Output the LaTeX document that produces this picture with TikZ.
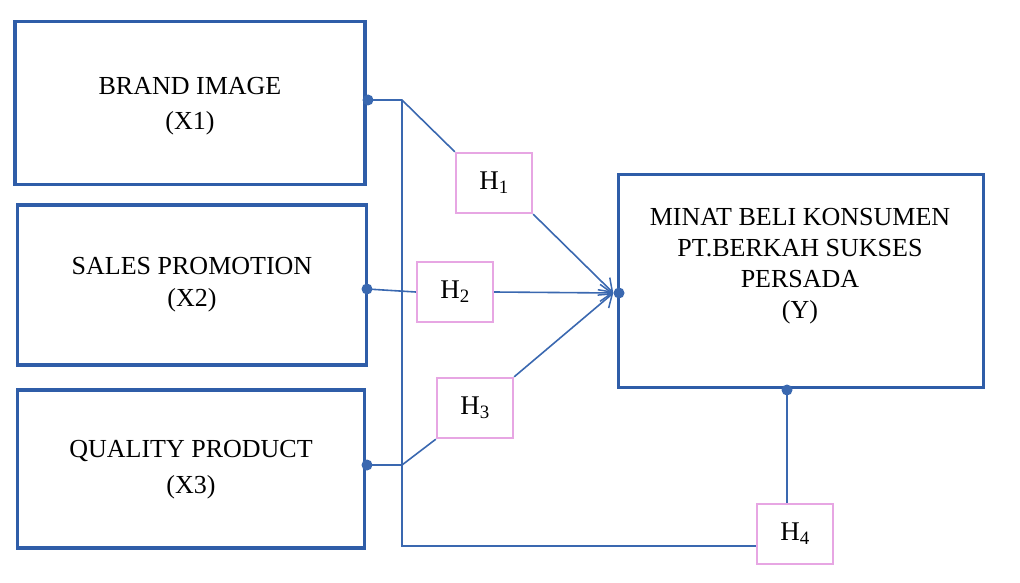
\documentclass[tikz,border=0pt]{standalone}
\usepackage{fontspec}
\setmainfont{Liberation Serif}
\usetikzlibrary{arrows.meta}
\definecolor{boxblue}{HTML}{2F5DA8}
\definecolor{lineblue}{HTML}{3A68B0}
\definecolor{hpink}{HTML}{E7A6E3}
\tikzset{
  varbox/.style={draw=boxblue, line width=3.2pt, fill=white, inner sep=0pt},
  vartext/.style={font=\fontsize{26}{35}\selectfont, align=center, inner sep=0pt},
  hbox/.style={draw=hpink, line width=2.4pt, fill=white, inner sep=0pt, minimum width=76pt, minimum height=60pt, font=\fontsize{27}{30}\selectfont},
  conn/.style={draw=lineblue, line width=1.6pt},
  thin/.style={draw=lineblue, line width=1.1pt},
  arr/.style={conn, -{Straight Barb[length=12pt, width=17pt, line width=1.5pt]}},
  dot/.style={circle, fill=lineblue, inner sep=0pt, minimum size=11pt}
}
\begin{document}
\begin{tikzpicture}[x=1pt, y=-1pt]
\useasboundingbox (0,0) rectangle (1020,583);
% variable boxes
\node[varbox, minimum width=350pt, minimum height=163pt] (x1) at (190,103) {};
\node[vartext] (t1) at (190,106) {BRAND IMAGE\\(X1)};
\node[varbox, minimum width=349pt, minimum height=160pt] (x2) at (192,285) {};
\node[vartext, font=\fontsize{26}{32}\selectfont] (t2) at (192,285) {SALES PROMOTION\\(X2)};
\node[varbox, minimum width=347pt, minimum height=158pt] (x3) at (191,469) {};
\node[vartext, font=\fontsize{26}{36}\selectfont] (t3) at (191,470) {QUALITY PRODUCT\\(X3)};
\node[varbox, minimum width=365pt, minimum height=213pt] (y) at (801,281) {};
\node[vartext, font=\fontsize{26}{31}\selectfont] (ty) at (800,266) {MINAT BELI KONSUMEN\\PT.BERKAH SUKSES\\PERSADA\\(Y)};
% hypothesis boxes
\node[hbox] (h1) at (494,183) {H\textsubscript{1}};
\node[hbox] (h2) at (455,292) {H\textsubscript{2}};
\node[hbox] (h3) at (475,408) {H\textsubscript{3}};
\node[hbox] (h4) at (795,534) {H\textsubscript{4}};
% dots
\node[dot] (d1) at (368,100) {};
\node[dot] (d2) at (367,289) {};
\node[dot] (d3) at (367,465) {};
\node[dot] (dy) at (619,293) {};
\node[dot] (dyb) at (787,390) {};
\coordinate (j1) at (402,100);
\coordinate (j3) at (402,465);
\coordinate (jb) at (402,546);
% connectors
\draw[conn] (d1.center) -- (j1) -- (h1.north west);
\draw[arr] (h1.south east) -- (dy.west);
\draw[conn] (d2.center) -- (h2.west);
\draw[arr] (h2.east) -- (dy.west);
\draw[conn] (d3.center) -- (j3) -- (h3.south west);
\draw[arr] (h3.north east) -- (dy.west);
\draw[thin] (j1) -- (jb) -- (h4.west |- jb);
\draw[thin] (dyb.center) -- (dyb.center |- h4.north);
\end{tikzpicture}
\end{document}
